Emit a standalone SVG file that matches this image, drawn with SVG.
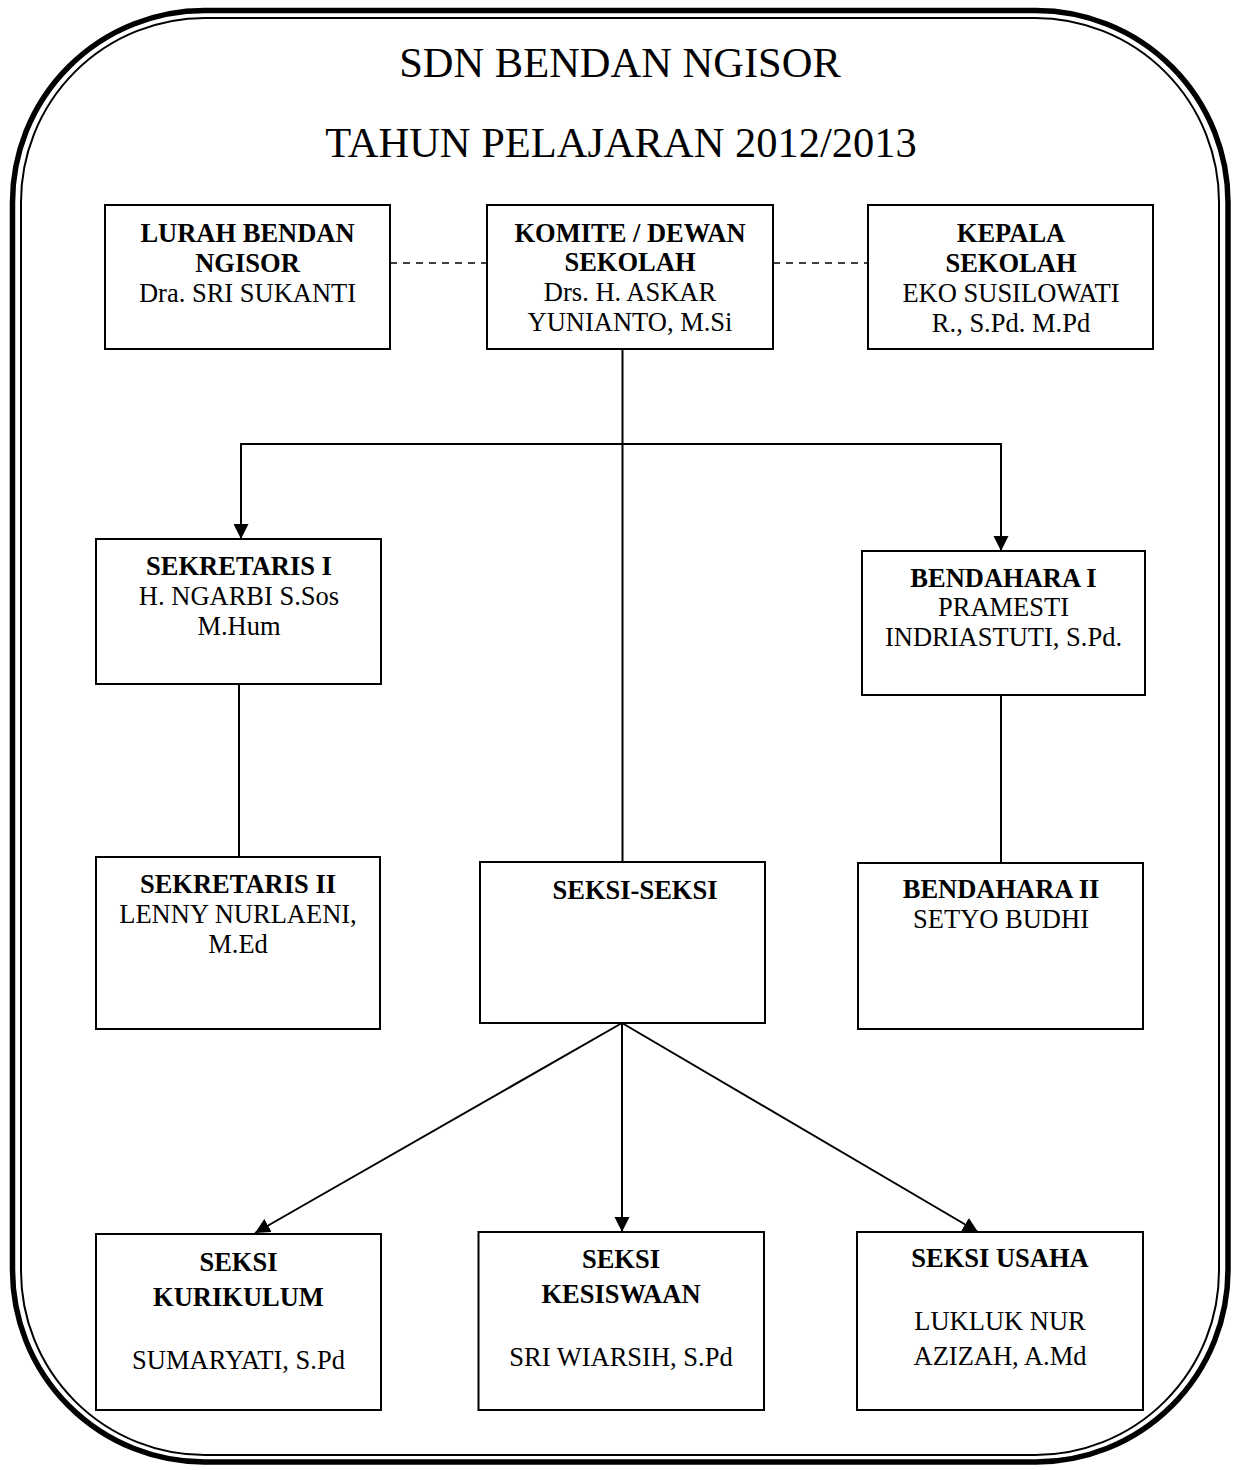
<svg xmlns="http://www.w3.org/2000/svg" width="1238" height="1470" viewBox="0 0 1238 1470">
<style>
.box{fill:#fff;stroke:#000;stroke-width:2}
.t{font-family:"Liberation Serif","Times New Roman",serif;font-size:26.5px;fill:#000;text-anchor:middle}
.b{font-weight:bold}
.title{font-family:"Liberation Serif","Times New Roman",serif;font-size:42.5px;fill:#000;text-anchor:middle}
.c{stroke:#000;stroke-width:2;fill:none}
.d{stroke:#000;stroke-width:1.6;fill:none;stroke-dasharray:7 6}
.a{marker-end:url(#arr)}
</style>
<defs>
<marker id="arr" markerUnits="userSpaceOnUse" markerWidth="16" markerHeight="16" refX="15" refY="7.5" orient="auto">
<path d="M0,0 L15,7.5 L0,15 z" fill="#000"/>
</marker>
</defs>
<rect width="1238" height="1470" fill="#fff"/>
<g id="frame" fill="none" stroke="#000">
<rect x="12.5" y="10.5" width="1215.5" height="1451.5" rx="192" ry="192" stroke-width="5.5"/>
<rect x="21" y="18" width="1198" height="1437" rx="184" ry="184" stroke-width="2"/>
</g>
<g id="title">
<text class="title" x="620" y="77">SDN BENDAN NGISOR</text>
<text class="title" x="621" y="157">TAHUN PELAJARAN 2012/2013</text>
</g>
<g id="connectors">
<line class="d" x1="390" y1="263" x2="487" y2="263"/>
<line class="d" x1="773" y1="263" x2="868" y2="263"/>
<line class="c" x1="622.5" y1="349" x2="622.5" y2="862"/>
<line class="c" x1="240" y1="444" x2="1002" y2="444"/>
<line class="c a" x1="241" y1="444" x2="241" y2="539"/>
<line class="c a" x1="1001" y1="444" x2="1001" y2="551"/>
<line class="c" x1="239" y1="684" x2="239" y2="857"/>
<line class="c" x1="1001" y1="695" x2="1001" y2="863"/>
<line class="c a" x1="622" y1="1023" x2="255" y2="1233"/>
<line class="c a" x1="622" y1="1023" x2="622" y2="1232"/>
<line class="c a" x1="622" y1="1023" x2="978" y2="1232"/>
</g>
<g id="lurah">
<rect class="box" x="105" y="205" width="285" height="144"/>
<text class="t b" x="247.5" y="242">LURAH BENDAN</text>
<text class="t b" x="247.5" y="272">NGISOR</text>
<text class="t" x="247.5" y="302">Dra. SRI SUKANTI</text>
</g>
<g id="komite">
<rect class="box" x="487" y="205" width="286" height="144"/>
<text class="t b" x="630" y="242">KOMITE / DEWAN</text>
<text class="t b" x="630" y="271">SEKOLAH</text>
<text class="t" x="630" y="301">Drs. H. ASKAR</text>
<text class="t" x="630" y="331">YUNIANTO, M.Si</text>
</g>
<g id="kepala">
<rect class="box" x="868" y="205" width="285" height="144"/>
<text class="t b" x="1011" y="242">KEPALA</text>
<text class="t b" x="1011" y="272">SEKOLAH</text>
<text class="t" x="1011" y="302">EKO SUSILOWATI</text>
<text class="t" x="1011" y="332">R., S.Pd. M.Pd</text>
</g>
<g id="sekretaris1">
<rect class="box" x="96" y="539" width="285" height="145"/>
<text class="t b" x="239" y="575">SEKRETARIS I</text>
<text class="t" x="239" y="605">H. NGARBI S.Sos</text>
<text class="t" x="239" y="635">M.Hum</text>
</g>
<g id="bendahara1">
<rect class="box" x="862" y="551" width="283" height="144"/>
<text class="t b" x="1003.5" y="587">BENDAHARA I</text>
<text class="t" x="1003.5" y="616">PRAMESTI</text>
<text class="t" x="1003.5" y="646">INDRIASTUTI, S.Pd.</text>
</g>
<g id="sekretaris2">
<rect class="box" x="96" y="857" width="284" height="172"/>
<text class="t b" x="238" y="893">SEKRETARIS II</text>
<text class="t" x="238" y="923">LENNY NURLAENI,</text>
<text class="t" x="238" y="953">M.Ed</text>
</g>
<g id="seksi">
<rect class="box" x="480" y="862" width="285" height="161"/>
<text class="t b" x="635" y="899">SEKSI-SEKSI</text>
</g>
<g id="bendahara2">
<rect class="box" x="858" y="863" width="285" height="166"/>
<text class="t b" x="1001" y="898">BENDAHARA II</text>
<text class="t" x="1001" y="928">SETYO BUDHI</text>
</g>
<g id="kurikulum">
<rect class="box" x="96" y="1234" width="285" height="176"/>
<text class="t b" x="238.5" y="1271">SEKSI</text>
<text class="t b" x="238.5" y="1306">KURIKULUM</text>
<text class="t" x="238.5" y="1369">SUMARYATI, S.Pd</text>
</g>
<g id="kesiswaan">
<rect class="box" x="478.5" y="1232" width="285.5" height="178"/>
<text class="t b" x="621" y="1268">SEKSI</text>
<text class="t b" x="621" y="1303">KESISWAAN</text>
<text class="t" x="621" y="1366">SRI WIARSIH, S.Pd</text>
</g>
<g id="usaha">
<rect class="box" x="857" y="1232" width="286" height="178"/>
<text class="t b" x="1000" y="1267">SEKSI USAHA</text>
<text class="t" x="1000" y="1330">LUKLUK NUR</text>
<text class="t" x="1000" y="1365">AZIZAH, A.Md</text>
</g>
</svg>
